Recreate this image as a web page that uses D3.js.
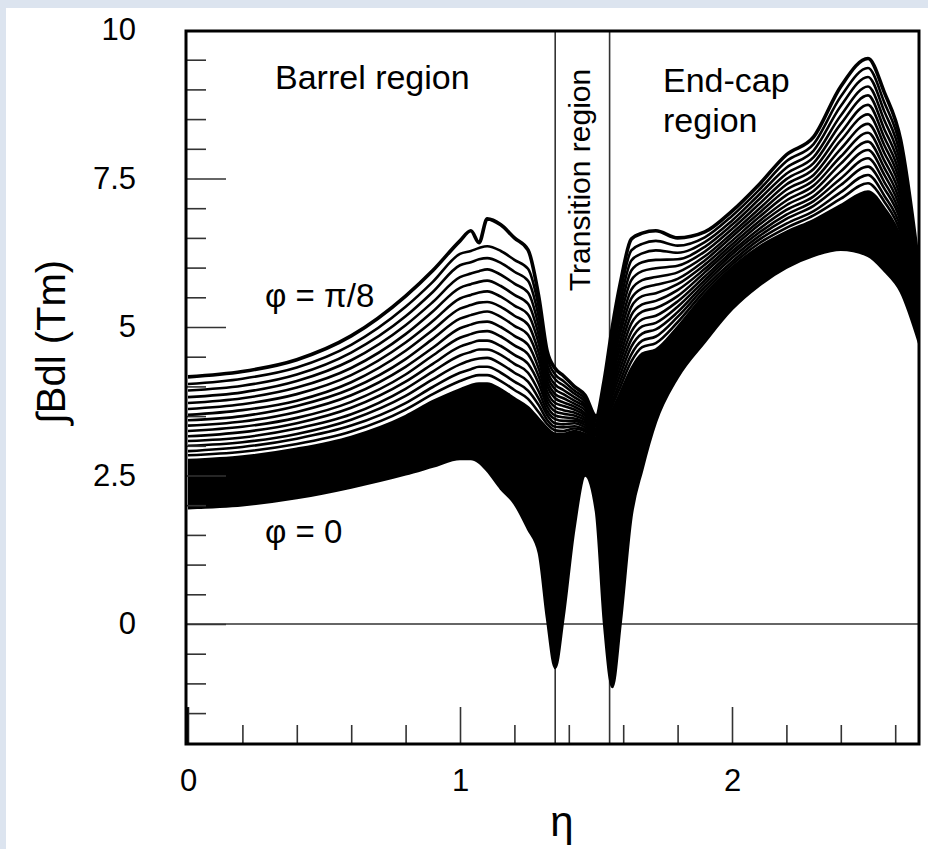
<!DOCTYPE html>
<html><head><meta charset="utf-8">
<script src="https://cdn.jsdelivr.net/npm/d3@7"></script>
<style>
html,body{margin:0;padding:0;background:#dce4ef;}
svg{display:block;}
text{font-family:"Liberation Sans",Arial,sans-serif;fill:#000;}
</style></head><body>
<svg id="chart" width="928" height="849"></svg>
<script>
// pseudorapidity sample points
const eta = [0, 0.2, 0.4, 0.6, 0.8, 0.9, 1.0, 1.04, 1.07, 1.1, 1.15, 1.2, 1.25, 1.29, 1.32, 1.35, 1.38, 1.42, 1.46, 1.5, 1.53, 1.56, 1.59, 1.63, 1.67, 1.72, 1.8, 1.9, 2.0, 2.1, 2.2, 2.3, 2.4, 2.5, 2.56, 2.62, 2.69];

// field integral (Tm), top curve phi = pi/8
const phiPi8 = [4.16,4.25,4.45,4.85,5.52,5.95,6.45,6.62,6.42,6.82,6.72,6.50,6.30,5.50,4.60,4.30,4.18,4.00,3.85,3.50,4.10,5.00,5.75,6.48,6.58,6.62,6.50,6.60,6.95,7.40,7.90,8.20,9.05,9.52,8.95,8.15,5.90];
// intermediate phi curves (resolvable ones, from top to bottom)
const curve01 = [4.04,4.13,4.32,4.70,5.34,5.76,6.23,6.28,6.33,6.36,6.28,6.13,5.98,5.32,4.49,4.20,4.09,3.93,3.79,3.47,4.03,4.88,5.59,6.29,6.40,6.45,6.37,6.51,6.87,7.31,7.79,8.08,8.88,9.36,8.78,8.01,5.83];
const curve02 = [3.93,4.01,4.20,4.57,5.18,5.59,6.04,6.09,6.14,6.16,6.08,5.93,5.78,5.16,4.38,4.12,4.02,3.88,3.74,3.43,3.97,4.77,5.44,6.12,6.24,6.29,6.25,6.43,6.79,7.23,7.68,7.97,8.72,9.21,8.63,7.88,5.77];
const curve03 = [3.82,3.90,4.09,4.44,5.03,5.42,5.84,5.90,5.94,5.97,5.88,5.73,5.58,5.00,4.28,4.03,3.94,3.82,3.69,3.40,3.91,4.66,5.30,5.95,6.09,6.13,6.14,6.35,6.72,7.15,7.58,7.86,8.56,9.05,8.48,7.75,5.71];
const curve04 = [3.72,3.80,3.98,4.31,4.88,5.26,5.66,5.72,5.76,5.78,5.69,5.54,5.39,4.85,4.19,3.95,3.87,3.76,3.65,3.37,3.85,4.56,5.17,5.79,5.94,5.99,6.03,6.27,6.65,7.07,7.49,7.76,8.42,8.90,8.33,7.63,5.65];
const curve05 = [3.62,3.70,3.87,4.19,4.74,5.10,5.48,5.54,5.58,5.60,5.51,5.36,5.21,4.71,4.10,3.87,3.80,3.71,3.60,3.35,3.79,4.46,5.03,5.63,5.79,5.84,5.92,6.19,6.58,6.99,7.40,7.66,8.27,8.74,8.19,7.51,5.59];
const curve06 = [3.52,3.60,3.76,4.07,4.60,4.95,5.31,5.37,5.41,5.42,5.34,5.19,5.04,4.56,4.01,3.80,3.73,3.66,3.55,3.32,3.73,4.36,4.91,5.48,5.65,5.71,5.81,6.12,6.52,6.92,7.31,7.56,8.14,8.58,8.06,7.40,5.53];
const curve07 = [3.43,3.50,3.67,3.96,4.46,4.80,5.14,5.20,5.24,5.26,5.17,5.02,4.87,4.43,3.92,3.72,3.67,3.61,3.51,3.29,3.68,4.27,4.78,5.34,5.52,5.57,5.72,6.05,6.45,6.85,7.22,7.47,8.00,8.42,7.93,7.29,5.48];
const curve08 = [3.34,3.41,3.57,3.85,4.33,4.65,4.98,5.04,5.08,5.09,5.00,4.85,4.70,4.29,3.83,3.65,3.60,3.56,3.47,3.26,3.63,4.18,4.66,5.20,5.38,5.44,5.62,5.98,6.39,6.78,7.13,7.38,7.87,8.27,7.80,7.18,5.43];
const curve09 = [3.25,3.32,3.47,3.74,4.20,4.52,4.82,4.88,4.92,4.93,4.84,4.69,4.54,4.16,3.75,3.58,3.54,3.51,3.43,3.24,3.58,4.09,4.54,5.06,5.26,5.32,5.52,5.92,6.33,6.72,7.05,7.29,7.75,8.12,7.68,7.07,5.38];
const curve10 = [3.16,3.23,3.38,3.64,4.08,4.38,4.67,4.73,4.77,4.77,4.68,4.53,4.38,4.04,3.67,3.51,3.48,3.46,3.39,3.21,3.53,4.00,4.43,4.92,5.13,5.19,5.43,5.85,6.27,6.65,6.97,7.20,7.62,7.98,7.56,6.97,5.33];
const curve11 = [3.08,3.14,3.29,3.53,3.96,4.25,4.52,4.58,4.62,4.62,4.53,4.38,4.23,3.91,3.59,3.45,3.42,3.42,3.35,3.19,3.48,3.92,4.32,4.79,5.01,5.07,5.34,5.79,6.22,6.59,6.89,7.12,7.50,7.84,7.44,6.87,5.28];
const curve12 = [3.00,3.06,3.20,3.44,3.84,4.12,4.37,4.44,4.47,4.48,4.38,4.23,4.08,3.79,3.52,3.38,3.36,3.38,3.31,3.17,3.43,3.84,4.21,4.67,4.89,4.96,5.25,5.73,6.16,6.53,6.82,7.04,7.39,7.70,7.33,6.78,5.23];
const curve13 = [2.91,2.98,3.12,3.34,3.72,3.99,4.23,4.29,4.33,4.33,4.23,4.08,3.93,3.68,3.44,3.32,3.31,3.33,3.27,3.14,3.39,3.75,4.10,4.54,4.77,4.84,5.17,5.67,6.10,6.47,6.74,6.95,7.27,7.56,7.21,6.68,5.19];
const curve14 = [2.84,2.90,3.03,3.24,3.61,3.87,4.09,4.16,4.19,4.19,4.09,3.94,3.79,3.56,3.37,3.26,3.25,3.29,3.24,3.12,3.34,3.68,4.00,4.42,4.66,4.73,5.08,5.61,6.05,6.41,6.67,6.88,7.16,7.42,7.11,6.59,5.14];
// upper edge of the unresolved (solid black) bundle
const bundleTop = [2.76,2.82,2.95,3.15,3.50,3.75,3.95,4.02,4.05,4.05,3.95,3.80,3.65,3.45,3.30,3.20,3.20,3.25,3.20,3.10,3.30,3.60,3.90,4.30,4.55,4.62,5.00,5.55,6.00,6.35,6.60,6.80,7.05,7.28,7.00,6.50,5.10];
// bottom curve phi = 0
const phi0 = [1.95,2.00,2.12,2.30,2.52,2.65,2.78,2.78,2.72,2.58,2.28,2.03,1.60,1.20,0.10,-0.74,0.10,1.60,2.50,1.90,0.00,-1.06,0.00,1.80,2.60,3.40,4.15,4.75,5.30,5.70,6.00,6.20,6.30,6.20,5.95,5.60,4.70];

const yMajorTicks = [0, 2.5, 5, 7.5, 10];
const yTickLabels = ["0", "2.5", "5", "7.5", "10"];
const xMajorTicks = [0, 1, 2];
const xTickLabels = ["0", "1", "2"];
const regionBounds = [1.35, 1.55];

const svg = d3.select("#chart");
const W = 928, H = 849;
svg.append("rect").attr("x", 6).attr("y", 8).attr("width", W - 6).attr("height", H - 8).attr("fill", "#fff");

const pL = 186, pR = 919, pT = 31, pB = 744;
const x = d3.scaleLinear().domain([0, 2.7]).range([188, 922.4]);
const y = d3.scaleLinear().domain([-2, 10]).range([742.8, 30]);

svg.append("clipPath").attr("id", "plotclip").append("rect")
  .attr("x", pL).attr("y", pT).attr("width", pR - pL).attr("height", pB - pT);

const g = svg.append("g").attr("clip-path", "url(#plotclip)");

// reference lines
g.append("line").attr("x1", pL).attr("x2", pR).attr("y1", y(0)).attr("y2", y(0))
  .attr("stroke", "#333").attr("stroke-width", 1.6);
regionBounds.forEach(b => {
  g.append("line").attr("x1", x(b)).attr("x2", x(b)).attr("y1", pT).attr("y2", pB)
    .attr("stroke", "#333").attr("stroke-width", 1.6);
});

const curveType = d3.curveMonotoneX;
const area = d3.area().x((d, i) => x(eta[i])).y0((d, i) => y(phi0[i])).y1((d, i) => y(bundleTop[i])).curve(curveType);
g.append("path").datum(eta).attr("d", area).attr("fill", "#000");

const line = d3.line().x((d, i) => x(eta[i])).y(d => y(d)).curve(curveType);
const family = [curve01, curve02, curve03, curve04, curve05, curve06, curve07, curve08, curve09, curve10, curve11, curve12, curve13, curve14, bundleTop, phi0];
family.forEach(c => {
  g.append("path").datum(c).attr("d", line).attr("fill", "none").attr("stroke", "#000").attr("stroke-width", 2.6).attr("stroke-linejoin", "round");
});
g.append("path").datum(phiPi8).attr("d", line).attr("fill", "none").attr("stroke", "#000").attr("stroke-width", 3.6).attr("stroke-linejoin", "round");

// axes
const yMinor = d3.range(-1.5, 10, 0.5).filter(v => !yMajorTicks.includes(v));
const yMinorAxis = svg.append("g").attr("transform", `translate(${pL},0)`)
  .call(d3.axisLeft(y).tickValues(yMinor).tickSize(-20).tickFormat(""));
const yMajorAxis = svg.append("g").attr("transform", `translate(${pL},0)`)
  .call(d3.axisLeft(y).tickValues(yMajorTicks).tickSize(-40).tickPadding(50)
    .tickFormat((d, i) => yTickLabels[i]));
const xMinor = d3.range(0.2, 2.7, 0.2).filter(v => Math.abs(v - Math.round(v)) > 1e-6);
const xMinorAxis = svg.append("g").attr("transform", `translate(0,${pB})`)
  .call(d3.axisBottom(x).tickValues(xMinor).tickSize(-19).tickFormat(""));
const xMajorAxis = svg.append("g").attr("transform", `translate(0,${pB})`)
  .call(d3.axisBottom(x).tickValues(xMajorTicks).tickSize(-37).tickPadding(25)
    .tickFormat((d, i) => xTickLabels[i]));
[yMinorAxis, yMajorAxis, xMinorAxis, xMajorAxis].forEach(a => {
  a.select(".domain").remove();
  a.selectAll(".tick line").attr("stroke", "#333").attr("stroke-width", 1.6);
  a.selectAll("text").attr("font-size", 31).attr("font-family", '"Liberation Sans", Arial, sans-serif').attr("fill", "#000");
});
yMajorAxis.selectAll(".tick").filter(d => d === 10).select("line").remove();

// frame
svg.append("rect").attr("x", pL).attr("y", pT).attr("width", pR - pL).attr("height", pB - pT)
  .attr("fill", "none").attr("stroke", "#000").attr("stroke-width", 3);
svg.append("line").attr("x1", pL + 1.5).attr("x2", pL + 1.5).attr("y1", y(-1.4)).attr("y2", pB)
  .attr("stroke", "#000").attr("stroke-width", 2);

// texts
svg.append("text").attr("x", 275).attr("y", 89).attr("font-size", 34).text("Barrel region");
svg.append("text").attr("x", 663).attr("y", 92).attr("font-size", 34).text("End-cap");
svg.append("text").attr("x", 663).attr("y", 132).attr("font-size", 34).text("region");
svg.append("text").attr("transform", "translate(590,180) rotate(-90)").attr("text-anchor", "middle")
  .attr("font-size", 30).text("Transition region");
svg.append("text").attr("x", 265).attr("y", 307).attr("font-size", 33).text("φ = π/8");
svg.append("text").attr("x", 265).attr("y", 543).attr("font-size", 33).text("φ = 0");
svg.append("text").attr("x", 562).attr("y", 836).attr("text-anchor", "middle").attr("font-size", 42).text("η");
svg.append("text").attr("transform", "translate(65,342) rotate(-90)").attr("text-anchor", "middle")
  .attr("font-size", 40).text("∫Bdl (Tm)");
</script>
</body></html>
